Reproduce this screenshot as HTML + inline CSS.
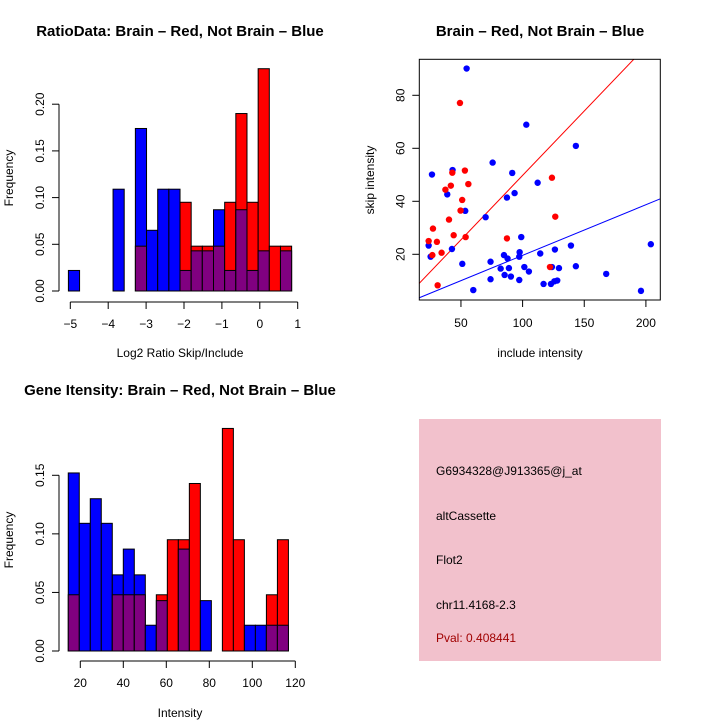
<!DOCTYPE html>
<html><head><meta charset="utf-8"><style>
body{margin:0;background:#fff}
svg{display:block;font-family:"Liberation Sans",sans-serif}
</style></head><body>
<svg id="chart" width="720" height="720" viewBox="0 0 720 720">
<rect width="720" height="720" fill="#fff"/>
<g id="p1"></g>
<g id="p2"></g>
<g id="p3"></g>
<g id="p4">
<rect x="419" y="419" width="242" height="242" fill="#f2c1cc"/>
<text x="436" y="475" font-size="12">G6934328@J913365@j_at</text>
<text x="436" y="520" font-size="12">altCassette</text>
<text x="436" y="564" font-size="12">Flot2</text>
<text x="436" y="609" font-size="12">chr11.4168-2.3</text>
<text x="436" y="642" font-size="12" fill="#a00000">Pval: 0.408441</text>
</g>
</svg>
<script>
// Plot 1 data: log2 ratio histogram
const ratioBinStart = -5.05;
const ratioBinWidth = 0.2945;
const ratioBlue = [0.022,0,0,0,0.109,0,0.174,0.065,0.109,0.109,0.022,0.043,0.043,0.087,0.022,0.087,0.022,0.043,0,0.043];
const ratioRed  = [0,0,0,0,0,0,0.048,0,0,0,0.095,0.048,0.048,0.048,0.095,0.190,0.095,0.238,0.048,0.048];
const ratioXTicks = [-5,-4,-3,-2,-1,0,1];
const ratioYTicks = [0,0.05,0.10,0.15,0.20];
const ratioYLabels = ["0.00","0.05","0.10","0.15","0.20"];
// Plot 3 data: intensity histogram
const intBinStart = 14.4;
const intBinWidth = 5.12;
const intBlue = [0.152,0.109,0.130,0.109,0.065,0.087,0.065,0.022,0.043,0,0.087,0,0.043,0,0,0,0.022,0.022,0.022,0.022];
const intRed  = [0.048,0,0,0,0.048,0.048,0.048,0,0.048,0.095,0.095,0.143,0,0,0.190,0.095,0,0,0.048,0.095];
const intXTicks = [20,40,60,80,100,120];
const intYTicks = [0,0.05,0.10,0.15];
const intYLabels = ["0.00","0.05","0.10","0.15"];
// Plot 2 data: scatter
const blueX = [54.6,43.2,26.5,38.9,23.8,25.4,42.7,51.1,53.5,60,70,74,74,75.7,82.2,84.9,85.4,87.8,87.3,88.9,90.5,91.6,93.5,97.3,97.6,97.3,98.9,101.4,103,105.1,112.2,114.3,117,123,123.8,125.7,126.2,128.1,129.5,139.2,143.2,143.2,167.8,196,204];
const blueY = [90.1,51.8,50.1,42.6,23.3,19.1,22.0,16.4,36.4,6.5,34,17.2,10.6,54.6,14.6,19.7,12.2,18.4,41.4,14.8,11.6,50.7,43.1,10.3,20.8,19.1,26.5,15.2,68.9,13.5,47.0,20.3,8.8,8.8,15.2,9.8,21.8,10.1,14.8,23.3,60.9,15.5,12.6,6.2,23.8];
const redX = [49.2,53.2,43,56,41.8,37.4,51,49.7,40.3,27.3,44.1,53.8,23.8,30.5,34.3,26.8,31.1,87.3,123.8,126.5,122.2];
const redY = [77.1,51.6,50.8,46.5,45.9,44.4,40.5,36.5,33.1,29.7,27.2,26.5,25.0,24.7,20.6,19.7,8.3,26.0,48.9,34.2,15.2];
const redFit = [1.17,0.486];
const blueFit = [0.5,0.191];
const scatXTicks = [50,100,150,200];
const scatYTicks = [20,40,60,80];

const NS="http://www.w3.org/2000/svg";
function mk(parent,tag,attrs,text){const e=document.createElementNS(NS,tag);for(const k in attrs)e.setAttribute(k,attrs[k]);if(text!==undefined)e.textContent=text;parent.appendChild(e);return e;}

function histogram(g,o){
  const sx=v=>o.x0px+(v-o.x0)*o.pxPerX;
  const sy=v=>o.y0px-v*o.pxPerY;
  for(let i=0;i<o.blue.length;i++){
    const b=o.blue[i],r=o.red[i];
    const xl=sx(o.binStart+i*o.binWidth),xr=sx(o.binStart+(i+1)*o.binWidth);
    const hi=Math.max(b,r),lo=Math.min(b,r);
    if(hi>0){
      const e=mk(g,'rect',{x:xl,y:sy(hi),width:xr-xl,height:sy(0)-sy(hi),fill:b>=r?'#0000ff':'#ff0000',stroke:'#000','stroke-width':1});
      
      
    }
    if(lo>0){
      const e=mk(g,'rect',{x:xl,y:sy(lo),width:xr-xl,height:sy(0)-sy(lo),fill:'#800080',stroke:'#000','stroke-width':1});
      
      
    }
  }
  const ya=mk(g,'g',{});
  
  
  mk(ya,'line',{x1:o.yAxisX,x2:o.yAxisX,y1:sy(o.yTicks[0]),y2:sy(o.yTicks[o.yTicks.length-1]),stroke:'#000'});
  o.yTicks.forEach((t,i)=>{
    mk(ya,'line',{x1:o.yAxisX-7,x2:o.yAxisX,y1:sy(t),y2:sy(t),stroke:'#000'});
    mk(ya,'text',{x:0,y:0,'font-size':12,'text-anchor':'middle',transform:`translate(${o.yAxisX-15},${sy(t)}) rotate(-90)`},o.yLabels[i]);
  });
  const xa=mk(g,'g',{});
  
  
  const ay=o.xAxisY;
  mk(xa,'line',{x1:sx(o.xTicks[0]),x2:sx(o.xTicks[o.xTicks.length-1]),y1:ay,y2:ay,stroke:'#000'});
  o.xTicks.forEach(t=>{
    mk(xa,'line',{x1:sx(t),x2:sx(t),y1:ay,y2:ay+7,stroke:'#000'});
    mk(xa,'text',{x:sx(t),y:ay+26,'font-size':12,'text-anchor':'middle'},String(t).replace('-','\u2212'));
  });
}

// Plot 1
const g1=document.getElementById('p1');
histogram(g1,{x0:-5,x0px:70.3,pxPerX:37.9,y0px:291,pxPerY:934,binStart:ratioBinStart,binWidth:ratioBinWidth,blue:ratioBlue,red:ratioRed,yTicks:ratioYTicks,yLabels:ratioYLabels,xTicks:ratioXTicks,yAxisX:59,xAxisY:302});
mk(g1,'text',{x:180,y:36,'font-size':15,'font-weight':'bold','text-anchor':'middle',},'RatioData: Brain \u2013 Red, Not Brain \u2013 Blue');
mk(g1,'text',{x:180,y:357,'font-size':12,'text-anchor':'middle',},'Log2 Ratio Skip/Include');
mk(g1,'text',{x:0,y:0,'font-size':12,'text-anchor':'middle',transform:'translate(13,178) rotate(-90)',},'Frequency');

// Plot 3
const g3=document.getElementById('p3');
histogram(g3,{x0:20,x0px:80.3,pxPerX:2.15,y0px:651,pxPerY:1171.4,binStart:intBinStart,binWidth:intBinWidth,blue:intBlue,red:intRed,yTicks:intYTicks,yLabels:intYLabels,xTicks:intXTicks,yAxisX:59,xAxisY:661});
mk(g3,'text',{x:180,y:395,'font-size':15,'font-weight':'bold','text-anchor':'middle',},'Gene Itensity: Brain \u2013 Red, Not Brain \u2013 Blue');
mk(g3,'text',{x:180,y:717,'font-size':12,'text-anchor':'middle',},'Intensity');
mk(g3,'text',{x:0,y:0,'font-size':12,'text-anchor':'middle',transform:'translate(13,540) rotate(-90)',},'Frequency');

// Plot 2
const g2=document.getElementById('p2');
const L=419.3,R=660.3,T=59.3,B=300;
const px=v=>399.3+v*1.233, py=v=>307.3-v*2.65;
const ix=p=>(p-399.3)/1.233;
mk(g2,'defs',{}).innerHTML='<clipPath id="cp"><rect x="'+L+'" y="'+T+'" width="'+(R-L)+'" height="'+(B-T)+'"/></clipPath>';
[[redFit,'#ff0000','red-fit-line'],[blueFit,'#0000ff','blue-fit-line']].forEach(([f,c,n])=>{
  const xa=ix(L),xb=ix(R);
  const e=mk(g2,'line',{x1:px(xa),y1:py(f[0]+f[1]*xa),x2:px(xb),y2:py(f[0]+f[1]*xb),stroke:c,'stroke-width':1,'clip-path':'url(#cp)'});
  
  
});
blueX.forEach((v,i)=>{
  const e=mk(g2,'circle',{cx:px(v),cy:py(blueY[i]),r:3.2,fill:'#0000ff'});
  
  
});
redX.forEach((v,i)=>{
  const e=mk(g2,'circle',{cx:px(v),cy:py(redY[i]),r:3.2,fill:'#ff0000'});
  
  
});
mk(g2,'rect',{x:L,y:T,width:R-L,height:B-T,fill:'none',stroke:'#000',});
scatXTicks.forEach(t=>{
  mk(g2,'line',{x1:px(t),x2:px(t),y1:B,y2:B+7,stroke:'#000'});
  mk(g2,'text',{x:px(t),y:B+27,'font-size':12,'text-anchor':'middle'},String(t));
});
scatYTicks.forEach(t=>{
  mk(g2,'line',{x1:L-7,x2:L,y1:py(t),y2:py(t),stroke:'#000'});
  mk(g2,'text',{x:0,y:0,'font-size':12,'text-anchor':'middle',transform:`translate(${L-15},${py(t)}) rotate(-90)`},String(t));
});
mk(g2,'text',{x:540,y:36,'font-size':15,'font-weight':'bold','text-anchor':'middle',},'Brain \u2013 Red, Not Brain \u2013 Blue');
mk(g2,'text',{x:540,y:357,'font-size':12,'text-anchor':'middle',},'include intensity');
mk(g2,'text',{x:0,y:0,'font-size':12,'text-anchor':'middle',transform:'translate(374,180) rotate(-90)',},'skip intensity');
</script>
</body></html>
